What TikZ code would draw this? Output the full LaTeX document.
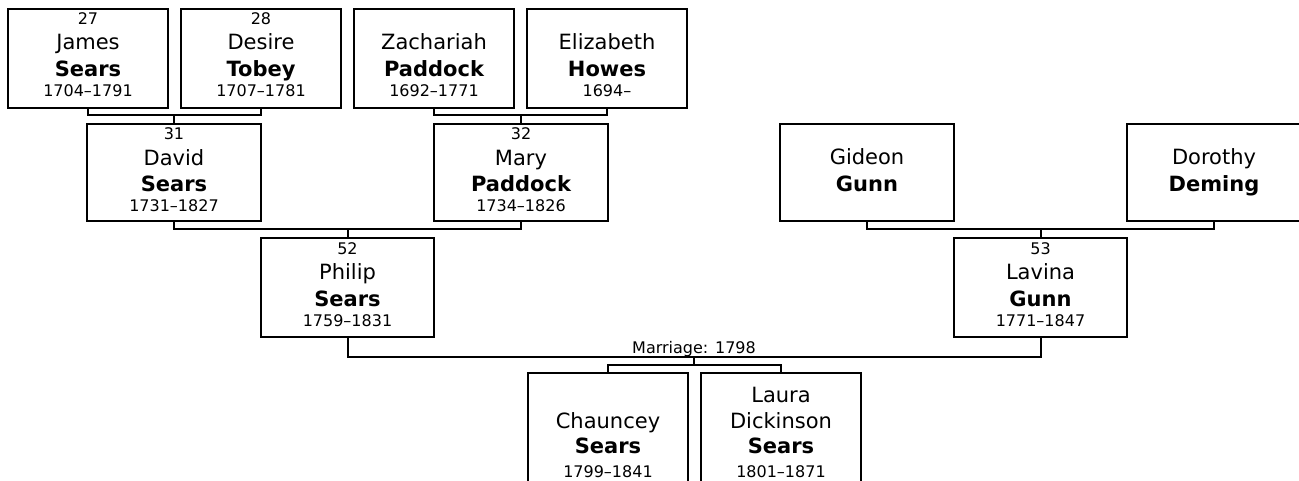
\documentclass[tikz,border=0pt]{standalone}
\usepackage{fontspec}
\setmainfont{DejaVu Sans}
\usetikzlibrary{positioning}
\newcommand\nm{\fontsize{21}{25}\selectfont}
\newcommand\sm{\fontsize{16}{25}\selectfont}
\newcommand\firstrow{\rule{0pt}{12pt}}
\newcommand\namerow{\rule{0pt}{16pt}}
\newcommand\personbox[5]{%
  \pgfmathsetmacro\pbw{#4-#2}\pgfmathsetmacro\pbh{#5-#3}%
  \node[pbox, minimum width=\pbw pt, minimum height=\pbh pt] (#1) at ({(#2+#4)/2},{(#3+#5)/2}) {};}
\begin{document}
\begin{tikzpicture}[x=1pt,y=-1pt,
  pbox/.style={draw=black, line width=2pt, rectangle, inner sep=0pt, outer sep=0pt, fill=white},
  ptext/.style={inner sep=0pt, outer sep=0pt, align=center, font=\sm, text=black},
  conn/.style={draw=black, line width=2pt}]
\useasboundingbox (0,0) rectangle (1299,481);
\clip (0,0) rectangle (1299,481);
\fill[white] (0,0) rectangle (1299,481);
% boxes
\personbox{p27}{8}{9}{168}{108}
\personbox{p28}{181}{9}{341}{108}
\personbox{pz}{354}{9}{514}{108}
\personbox{pe}{527}{9}{687}{108}
\personbox{p31}{87}{124}{261}{221}
\personbox{p32}{434}{124}{608}{221}
\personbox{pg}{780}{124}{954}{221}
\personbox{pd}{1127}{124}{1301}{221}
\personbox{p52}{261}{238}{434}{337}
\personbox{p53}{954}{238}{1127}{337}
\personbox{pc}{528}{373}{688}{520}
\personbox{pl}{701}{373}{861}{520}
% texts
\node[ptext, below=4pt of p27.north] (t27) {\firstrow 27\\{\nm James}\\[2pt]{\nm\bfseries Sears}\\[-5pt]1704–1791};
\node[ptext, below=4pt of p28.north] (t28) {\firstrow 28\\{\nm Desire}\\[2pt]{\nm\bfseries Tobey}\\[-5pt]1707–1781};
\node[ptext, below=4pt of pz.north] (tz) {\firstrow\\{\nm Zachariah}\\[2pt]{\nm\bfseries Paddock}\\[-5pt]1692–1771};
\node[ptext, below=4pt of pe.north] (te) {\firstrow\\{\nm Elizabeth}\\[2pt]{\nm\bfseries Howes}\\[-5pt]1694–};
\node[ptext, below=4pt of p31.north] (t31) {\firstrow 31\\{\nm David}\\[2pt]{\nm\bfseries Sears}\\[-5pt]1731–1827};
\node[ptext, below=4pt of p32.north] (t32) {\firstrow 32\\{\nm Mary}\\[2pt]{\nm\bfseries Paddock}\\[-5pt]1734–1826};
\node[ptext, below=4pt of pg.north] (tg) {\firstrow\\{\nm Gideon}\\[2pt]{\nm\bfseries Gunn}};
\node[ptext, below=4pt of pd.north] (td) {\firstrow\\{\nm Dorothy}\\[2pt]{\nm\bfseries Deming}};
\node[ptext, below=4pt of p52.north] (t52) {\firstrow 52\\{\nm Philip}\\[2pt]{\nm\bfseries Sears}\\[-5pt]1759–1831};
\node[ptext, below=4pt of p53.north] (t53) {\firstrow 53\\{\nm Lavina}\\[2pt]{\nm\bfseries Gunn}\\[-5pt]1771–1847};
\node[ptext, below=13pt of pl.north] (tl) {\namerow{\nm Laura}\\[1pt]{\nm Dickinson}\\{\nm\bfseries Sears}\\[-1pt]1801–1871};
\node[ptext, below=39pt of pc.north] (tc) {\namerow{\nm Chauncey}\\{\nm\bfseries Sears}\\[-1pt]1799–1841};
% connectors
\coordinate (j1) at (p31.north |- 0,115.5);
\coordinate (j2) at (p32.north |- 0,115.5);
\coordinate (j3) at (p52.north |- 0,229.5);
\coordinate (j4) at (p53.north |- 0,229.5);
\coordinate (m) at (694,356.5);
\coordinate (j5) at (694,365);
\draw[conn] (p27.south) |- (j1) -| (p28.south);
\draw[conn] (j1) -- (p31.north);
\draw[conn] (pz.south) |- (j2) -| (pe.south);
\draw[conn] (j2) -- (p32.north);
\draw[conn] (p31.south) |- (j3) -| (p32.south);
\draw[conn] (j3) -- (p52.north);
\draw[conn] (pg.south) |- (j4) -| (pd.south);
\draw[conn] (j4) -- (p53.north);
\draw[conn] (p52.south) |- (m) -| (p53.south);
\node[inner sep=0pt, anchor=base, font=\sm] (mlab) at (694,353) {Marriage: 1798};
\draw[conn] (m) -- (j5);
\draw[conn] (pc.north) |- (j5) -| (pl.north);
\end{tikzpicture}
\end{document}
